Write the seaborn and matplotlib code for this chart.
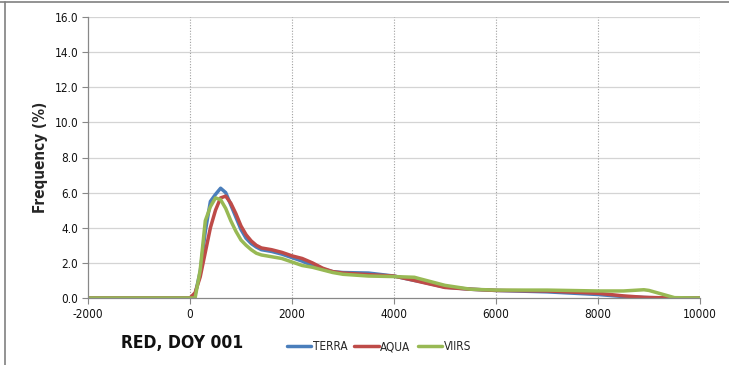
import matplotlib
matplotlib.use("Agg")
import matplotlib.pyplot as plt
from matplotlib.lines import Line2D
import seaborn as sns
import pandas as pd

# ---- data ----
x_dn = [-2000, -1000, 0, 100, 200, 300, 400, 500, 600, 700, 800, 900, 1000,
        1100, 1200, 1300, 1400, 1600, 1800, 2000, 2200, 2400, 2600, 2800,
        3000, 3500, 4000, 4400, 4500, 5000, 5500, 6000, 7000, 8000, 8500,
        8900, 9000, 9500, 10000]
terra = [0.0, 0.0, 0.0, 0.2, 1.5, 3.8, 5.5, 5.9, 6.25, 6.0, 5.3, 4.6, 3.9,
         3.4, 3.1, 2.9, 2.75, 2.65, 2.5, 2.3, 2.1, 1.85, 1.65, 1.5,
         1.45, 1.42, 1.25, 1.0, 0.95, 0.62, 0.5, 0.43, 0.35, 0.2, 0.08,
         0.03, 0.02, 0.0, 0.0]
aqua = [0.0, 0.0, 0.0, 0.3, 1.2, 2.6, 4.0, 5.0, 5.7, 5.8, 5.4, 4.8, 4.1,
        3.6, 3.25, 3.0, 2.85, 2.75, 2.6, 2.4, 2.25, 2.0, 1.7, 1.5,
        1.42, 1.33, 1.25, 1.0, 0.93, 0.6, 0.5, 0.43, 0.4, 0.27, 0.12,
        0.04, 0.03, 0.0, 0.0]
viirs = [0.0, 0.0, 0.0, 0.0, 1.6, 4.4, 5.2, 5.7, 5.6, 5.1, 4.4, 3.8, 3.3,
         3.0, 2.75, 2.55, 2.45, 2.35, 2.25, 2.05, 1.85, 1.75, 1.6, 1.45,
         1.35, 1.25, 1.22, 1.18, 1.1, 0.72, 0.5, 0.45, 0.45, 0.4, 0.4,
         0.47, 0.43, 0.02, 0.0]
series_names = ["TERRA", "AQUA", "VIIRS"]
colors = ["#4a7ebb", "#be4b48", "#98b954"]
x_ticks = [-2000, 0, 2000, 4000, 6000, 8000, 10000]
y_ticks = [0, 2, 4, 6, 8, 10, 12, 14, 16]
chart_title = "RED, DOY 001"
y_label = "Frequency (%)"

df = pd.concat([
    pd.DataFrame({"DN": x_dn, "Frequency": vals, "Sensor": name})
    for name, vals in zip(series_names, [terra, aqua, viirs])
], ignore_index=True)

sns.set_theme(style="white")
plt.rcParams["font.family"] = ["DejaVu Sans"]
plt.rcParams["font.stretch"] = "condensed"
COND = dict(family="DejaVu Sans", fontstretch="condensed")

fig = plt.figure(figsize=(7.29, 3.65), dpi=100)
ax = fig.add_axes([88 / 729, 1 - 298 / 365, (700 - 88) / 729, (298 - 17) / 365])

sns.lineplot(data=df, x="DN", y="Frequency", hue="Sensor",
             hue_order=series_names, palette=colors, linewidth=2.5,
             ax=ax, legend=False, sort=False, estimator=None)

ax.set_xlim(-2000, 10000)
ax.set_ylim(0, 16)
ax.set_xticks(x_ticks)
ax.set_yticks(y_ticks)
ax.set_xticklabels([str(v) for v in x_ticks], **COND)
ax.set_yticklabels([f"{v:.1f}" for v in y_ticks], **COND)
ax.tick_params(axis="both", labelsize=8.5, length=4,
               width=0.8, direction="out", pad=3)
ax.tick_params(axis="x", bottom=True, color="#888888", labelcolor="#111111")
ax.tick_params(axis="y", left=True, color="#888888", labelcolor="#111111")

# grid: horizontal solid, vertical dotted
for yv in y_ticks[1:]:
    ax.axhline(yv, color="#d4d4d4", lw=0.9, zorder=0)
for xv in x_ticks[1:]:
    ax.axvline(xv, color="#a0a0a0", lw=0.8, ls=(0, (1, 1.5)), zorder=0)

for s in ["top", "right"]:
    ax.spines[s].set_visible(False)
for s in ["left", "bottom"]:
    ax.spines[s].set_color("#888888")
    ax.spines[s].set_linewidth(0.9)

ax.set_xlabel("")
ax.set_ylabel(y_label, fontsize=11, fontweight="bold", labelpad=5, **COND)

fig.text(182 / 729, 1 - 343 / 365, chart_title, fontsize=12.5,
         fontweight="bold", ha="center", va="center", color="#111111",
         **COND)

handles = [Line2D([0], [0], color=c, lw=2.5) for c in colors]
fig.legend(handles, series_names, loc="center left",
           bbox_to_anchor=(276 / 729, 1 - 347 / 365), ncol=3, frameon=False,
           prop=dict(family="DejaVu Sans", stretch="condensed", size=8.5),
           handlelength=2.1, handletextpad=0.1, columnspacing=0.6)

# outer frame remnants
fig.add_artist(Line2D([0, 1], [1 - 2 / 365, 1 - 2 / 365],
                      transform=fig.transFigure, color="#808080", lw=1.2))
fig.add_artist(Line2D([5 / 729, 5 / 729], [0, 1 - 2 / 365],
                      transform=fig.transFigure, color="#808080", lw=1.2))

fig.savefig("out.png", dpi=100)
